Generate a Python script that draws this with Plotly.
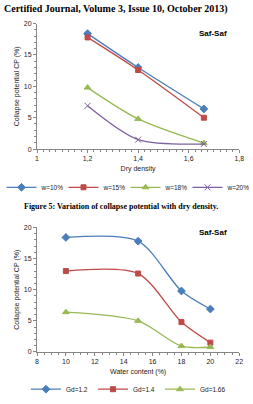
import plotly.graph_objects as go

# ---- data: Figure 5 (CP vs dry density) ----
dry_density = [1.2, 1.4, 1.66]
cp_w10 = [18.4, 13.0, 6.4]
cp_w15 = [17.8, 12.6, 5.0]
cp_w18 = [9.8, 4.8, 0.95]
cp_w20 = [6.9, 1.5, 0.8]
w_labels = ["w=10%", "w=15%", "w=18%", "w=20%"]

# ---- data: CP vs water content ----
water_content = [10, 15, 18, 20]
cp_gd12 = [18.4, 17.8, 9.8, 6.9]
cp_gd14 = [13.0, 12.6, 4.8, 1.5]
cp_gd166 = [6.4, 5.0, 0.95, 0.8]
gd_labels = ["Gd=1.2", "Gd=1.4", "Gd=1.66"]

colors = ["#4A7EBB", "#BE4B48", "#98B954", "#7D60A0"]
symbols = ["diamond", "square", "triangle-up", "x-thin"]
msizes = [6, 5, 6, 6]

W, H = 253, 404
def px(x):
    return x / W
def py(y):
    return 1 - y / H

fig = go.Figure()

top_series = [cp_w10, cp_w15, cp_w18, cp_w20]
for i, (ys, name) in enumerate(zip(top_series, w_labels)):
    fig.add_trace(go.Scatter(
        x=dry_density, y=ys, name=name, mode="lines+markers",
        line=dict(color=colors[i], width=1.3, shape="spline", smoothing=0.8),
        marker=dict(symbol=symbols[i], size=msizes[i], color=colors[i],
                    line=dict(color=colors[i], width=1)),
        xaxis="x", yaxis="y", legend="legend"))

bot_series = [cp_gd12, cp_gd14, cp_gd166]
for i, (ys, name) in enumerate(zip(bot_series, gd_labels)):
    fig.add_trace(go.Scatter(
        x=water_content, y=ys, name=name, mode="lines+markers",
        line=dict(color=colors[i], width=1.3, shape="spline", smoothing=0.8),
        marker=dict(symbol=symbols[i], size=msizes[i], color=colors[i],
                    line=dict(color=colors[i], width=1)),
        xaxis="x2", yaxis="y2", legend="legend2"))

axcol = "#868686"
tickfont = dict(family="Liberation Sans, Arial", size=7, color="#222")
titlefont = dict(family="Liberation Sans, Arial", size=7, color="#222")

def xax(rng, dtick, minor, dom, title, anchor):
    return dict(range=rng, dtick=dtick, tick0=rng[0], domain=dom, anchor=anchor,
                showgrid=False, zeroline=False, showline=True, linecolor=axcol,
                linewidth=1, ticks="outside", ticklen=3, tickcolor=axcol,
                minor=dict(dtick=minor, ticks="outside", ticklen=2, tickcolor=axcol, showgrid=False),
                tickfont=tickfont, title=dict(text=title, font=titlefont, standoff=4))

def yax(dom, anchor):
    return dict(range=[0, 20], dtick=5, domain=dom, anchor=anchor,
                showgrid=False, zeroline=False, showline=True, linecolor=axcol,
                linewidth=1, ticks="outside", ticklen=3, tickcolor=axcol,
                minor=dict(dtick=1, ticks="outside", ticklen=2, tickcolor=axcol, showgrid=False),
                tickfont=tickfont,
                title=dict(text="Collapse potential CP (%)", font=titlefont, standoff=3))

legfont = dict(family="Liberation Sans, Arial", size=6.5, color="#222")
xdom = [px(36), px(244)]
fig.update_layout(
    width=W, height=H, margin=dict(l=0, r=0, t=0, b=0),
    paper_bgcolor="white", plot_bgcolor="white",
    separators=", ",
    xaxis=xax([1, 1.8], 0.2, 0.025, xdom, "Dry density", "y"),
    yaxis=yax([py(148), py(20)], "x"),
    xaxis2=xax([8, 22], 2, 0.5, xdom, "Water content (%)", "y2"),
    yaxis2=yax([py(355), py(228)], "x2"),
    legend=dict(orientation="h", x=px(127), xanchor="center", y=py(187), yanchor="middle",
                font=legfont, itemwidth=30, entrywidth=17, entrywidthmode="pixels",
                bgcolor="rgba(0,0,0,0)", borderwidth=0),
    legend2=dict(orientation="h", x=px(128), xanchor="center", y=py(393), yanchor="middle",
                 font=legfont, itemwidth=30, entrywidth=22, entrywidthmode="pixels",
                 bgcolor="rgba(0,0,0,0)", borderwidth=0),
    showlegend=True,
)

ann = []
ann.append(dict(text="<b>Certified Journal, Volume 3, Issue 10, October 2013)</b>",
                x=0, y=py(5), xref="paper", yref="paper", xanchor="left", yanchor="middle",
                showarrow=False, font=dict(family="Liberation Serif, Times New Roman", size=10, color="black")))
ann.append(dict(text="<b>Figure 5: Variation of collapse potential with dry density.</b>",
                x=px(122), y=py(207), xref="paper", yref="paper", xanchor="center", yanchor="middle",
                showarrow=False, font=dict(family="Liberation Serif, Times New Roman", size=8, color="black")))
for yy in (30, 233):
    ann.append(dict(text="<b>Saf-Saf</b>", x=px(217), y=py(yy), xref="paper", yref="paper",
                    xanchor="center", yanchor="middle", showarrow=False,
                    font=dict(family="Liberation Sans, Arial", size=8, color="black")))
fig.update_layout(annotations=ann)

fig.write_html("out.html")
